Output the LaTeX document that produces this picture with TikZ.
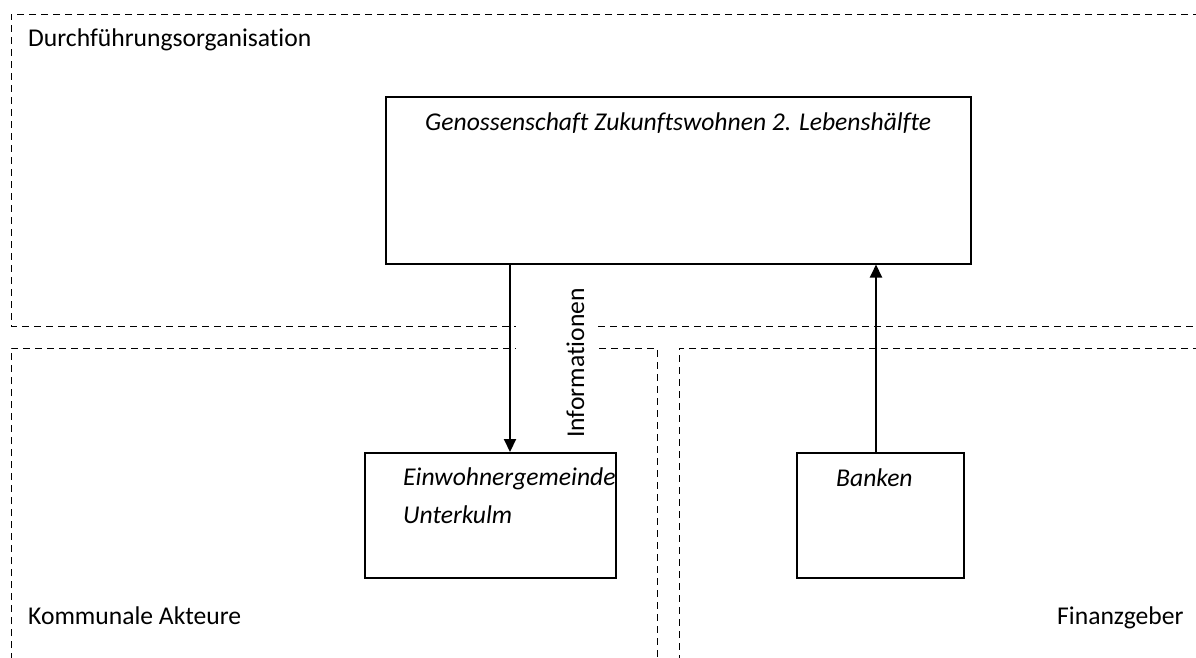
\documentclass[tikz,border=0pt]{standalone}
\usepackage{fontspec}
\setmainfont[Ligatures=NoCommon]{Carlito}
\usetikzlibrary{arrows.meta}
\tikzset{
  region/.style={draw=black, line width=1pt, dash pattern=on 7pt off 5pt},
  orgbox/.style={draw=black, line width=1.5pt, fill=white, inner sep=0pt},
  lbl/.style={anchor=base west, inner sep=0pt, font=\fontsize{25.6}{30}\selectfont},
  boxtext/.style={lbl, font=\fontsize{25.6}{30}\selectfont\itshape},
  arr/.style={line width=2pt, -{Triangle[length=13pt,width=12pt]}}
}
\begin{document}
\begin{tikzpicture}[x=1pt,y=-1pt]
\useasboundingbox (0,0) rectangle (1196,657);
\clip (0,0) rectangle (1196,657);
% regions
\draw[region] (1200,14) -- (11,14) -- (11,326) -- (1200,326);
\draw[region] (11,660) -- (11,348) -- (657,348) -- (657,660);
\draw[region] (1200,348) -- (679,348) -- (679,660);
\node[lbl] (durch) at (28,46) {Durchführungsorganisation};
\node[lbl] (komm) at (28,624) {Kommunale Akteure};
\node[lbl] (finanz) at (1057,624) {Finanzgeber};
% boxes
\node[orgbox, minimum width=585pt, minimum height=167pt, anchor=north west] (geno) at (385,96) {};
\node[orgbox, minimum width=251pt, minimum height=125pt, anchor=north west] (einw) at (364,452) {};
\node[orgbox, minimum width=167pt, minimum height=125pt, anchor=north west] (bank) at (796,452) {};
\node[boxtext] (genot) at (425,130) {Genossenschaft Zukunftswohnen 2. Lebenshälfte};
\node[boxtext] (einwt1) at (403,485) {Einwohnergemeinde};
\node[boxtext] (einwt2) at (403,523) {Unterkulm};
\node[boxtext] (bankt) at (836,486) {Banken};
% connectors
\draw[arr] ([xshift=125pt]geno.south west) -- ([xshift=146pt]einw.north west);
\draw[arr] ([xshift=80pt]bank.north west) -- ([xshift=491pt]geno.south west);
% label
\fill[white] (516,318) rectangle (597,355);
\node[lbl, rotate=90] (info) at (584,438) {Informationen};
\end{tikzpicture}
\end{document}
